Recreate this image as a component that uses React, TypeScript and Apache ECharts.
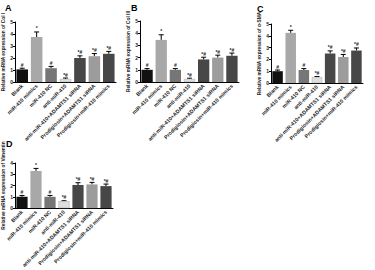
import React, { useEffect, useRef } from "react";
import * as echarts from "echarts";

const categories = [
  "Blank",
  "miR-410 mimics",
  "miR-410 NC",
  "anti-miR-410",
  "anti-miR-410+ADAMTS1 siRNA",
  "Prodigiosin+ADAMTS1 siRNA",
  "Prodigiosin+miR-410 mimics",
];

const colI = [1.05, 3.75, 1.15, 0.25, 2.0, 2.15, 2.35];
const colIErr = [0.1, 0.42, 0.15, 0.08, 0.18, 0.22, 0.2];
const colIII = [1.0, 3.45, 1.0, 0.25, 1.85, 2.0, 2.15];
const colIIIErr = [0.1, 0.42, 0.1, 0.06, 0.18, 0.2, 0.22];
const aSMA = [1.0, 4.25, 1.1, 0.5, 2.5, 2.2, 2.75];
const aSMAErr = [0.1, 0.22, 0.12, 0.05, 0.22, 0.22, 0.22];
const vimentin = [1.0, 3.3, 1.0, 0.6, 2.05, 2.1, 1.95];
const vimentinErr = [0.12, 0.22, 0.12, 0.05, 0.2, 0.18, 0.18];

const marks = ["#", "*", "#", "*#", "*#", "*#", "*#"];
const yTitles = [
  "Relative mRNA expression of Col I",
  "Relative mRNA expression of Col III",
  "Relative mRNA expression of α-SMA",
  "Relative mRNA expression of Vimentin",
];
const yMax = [5, 5, 5, 4];
const letters = ["A", "B", "C", "D"];

const barColors = ["#111111", "#a8a8a8", "#767676", "#dedede", "#474747", "#9c9c9c", "#474747"];

const panelValues = [colI, colIII, aSMA, vimentin];
const panelErrs = [colIErr, colIIIErr, aSMAErr, vimentinErr];

const grids = [
  { left: 15, top: 22, width: 101, height: 60 },
  { left: 140, top: 21, width: 99, height: 61 },
  { left: 271, top: 24, width: 92, height: 59 },
  { left: 15, top: 163, width: 98, height: 56 },
];
const letterPos = [
  [5, 3],
  [131, 3],
  [257, 4],
  [6, 139],
];

export default function App() {
  const ref = useRef<HTMLDivElement>(null);
  useEffect(() => {
    document.body.style.margin = "0";
    if (!ref.current) return;
    const chart = echarts.init(ref.current, null, { renderer: "svg" });
    const font = "Liberation Sans";
    const xAxis: any[] = [];
    const yAxis: any[] = [];
    const series: any[] = [];
    grids.forEach((g, i) => {
      xAxis.push({
        type: "category",
        gridIndex: i,
        data: categories,
        axisLine: { lineStyle: { color: "#000", width: 1 } },
        axisTick: { show: false },
        axisLabel: {
          rotate: 45,
          interval: 0,
          fontSize: 5.3,
          fontWeight: "bold",
          color: "#222",
          margin: 3,
          fontFamily: font,
        },
      });
      yAxis.push({
        type: "value",
        gridIndex: i,
        min: 0,
        max: yMax[i],
        interval: 1,
        splitLine: { show: false },
        axisLine: { show: true, lineStyle: { color: "#000", width: 1 } },
        axisTick: { show: true, length: 2, lineStyle: { color: "#000" } },
        axisLabel: { fontSize: 5, margin: 2, color: "#222", fontWeight: "bold", fontFamily: font },
        name: yTitles[i],
        nameLocation: "middle",
        nameGap: 8,
        nameTextStyle: { fontSize: 4.8, fontWeight: "bold", color: "#222", fontFamily: font },
      });
      const vals = panelValues[i];
      const errs = panelErrs[i];
      series.push({
        type: "bar",
        xAxisIndex: i,
        yAxisIndex: i,
        barCategoryGap: "20%",
        data: vals.map((v, j) => ({
          value: v,
          itemStyle: { color: barColors[j], borderColor: j === 3 ? "#aaa" : undefined, borderWidth: j === 3 ? 0.5 : 0 },
        })),
      });
      series.push({
        type: "custom",
        xAxisIndex: i,
        yAxisIndex: i,
        data: vals.map((v, j) => [j, v, errs[j]]),
        renderItem: (params: any, api: any) => {
          const idx = api.value(0);
          const v = api.value(1);
          const e = api.value(2);
          const base = api.coord([idx, v]);
          const top = api.coord([idx, v + e]);
          const cap = 2.5;
          return {
            type: "group",
            children: [
              { type: "line", shape: { x1: top[0], y1: base[1], x2: top[0], y2: top[1] }, style: { stroke: "#000", lineWidth: 1 } },
              { type: "line", shape: { x1: top[0] - cap, y1: top[1], x2: top[0] + cap, y2: top[1] }, style: { stroke: "#000", lineWidth: 1 } },
              {
                type: "text",
                style: {
                  text: marks[idx],
                  x: top[0],
                  y: top[1] - 1,
                  align: "center",
                  verticalAlign: "bottom",
                  fontSize: 5,
                  fontWeight: "bold",
                  fill: "#222",
                  fontFamily: font,
                },
              },
            ],
          };
        },
      });
    });
    chart.setOption({
      animation: false,
      backgroundColor: "#fff",
      grid: grids.map((g) => ({ ...g, containLabel: false })),
      xAxis,
      yAxis,
      series,
      graphic: letters.map((l, i) => ({
        type: "text",
        left: letterPos[i][0],
        top: letterPos[i][1],
        style: { text: l, fontSize: 9, fontWeight: "bold", fill: "#000", fontFamily: font },
      })),
    });
    return () => chart.dispose();
  }, []);
  return <div ref={ref} style={{ width: 375, height: 270 }} />;
}
